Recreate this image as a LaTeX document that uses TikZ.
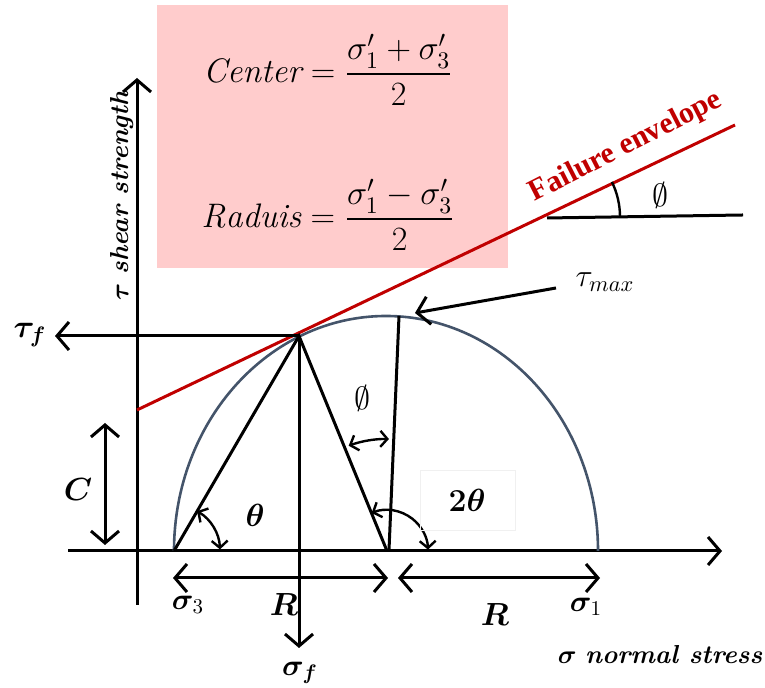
\RequirePackage{fix-cm}
\documentclass[tikz,border=0pt]{standalone}
\usepackage{amsmath,bm}
\usepackage{fontspec}
\newfontfamily\tnr{Liberation Serif}
\usetikzlibrary{arrows.meta}
\definecolor{pinkbg}{RGB}{255,204,204}
\definecolor{envred}{RGB}{192,0,0}
\definecolor{slate}{RGB}{68,84,106}
\begin{document}
\begin{tikzpicture}[x=0.5pt,y=0.5pt,
  ax/.style={line width=1.5pt},
  bigtip/.style={-{Straight Barb[length=6pt,width=14pt]}},
  bothtip/.style={{Straight Barb[length=6pt,width=14pt]}-{Straight Barb[length=6pt,width=14pt]}},
  smalltips/.style={line width=1.2pt,{Straight Barb[length=3.5pt,width=8pt]}-{Straight Barb[length=3.5pt,width=8pt]}},
  lab/.style={font=\fontsize{13}{16}\selectfont, inner sep=1pt},
  siglab/.style={font=\fontsize{15}{18}\selectfont, inner sep=1pt},
  biglab/.style={font=\fontsize{16}{19}\selectfont, inner sep=1pt},
  frm/.style={font=\fontsize{17}{20}\selectfont, inner sep=1pt}]
\useasboundingbox (0,0) rectangle (765,688);
% pink box
\fill[pinkbg] (157,420) rectangle (508,683);
\node[frm] (cen) at (328,618) {$\mathit{Center} = \dfrac{\sigma_1' + \sigma_3'}{2}$};
\node[frm] (rad) at (328,473) {$\mathit{Raduis} = \dfrac{\sigma_1' - \sigma_3'}{2}$};
% coordinates
\coordinate (vb) at (137,83);
\coordinate (vt) at (137,610);
\coordinate (hl) at (68,137);
\coordinate (hr) at (722,137);
\coordinate (A) at (174,137);
\coordinate (Ce) at (387,137);
\coordinate (T) at (299,352);
\coordinate (Mb) at (389,138);
\coordinate (M) at (399,372);
\coordinate (e1) at (137,278);
\coordinate (e2) at (735,563);
\coordinate (tf) at (55,352);
\coordinate (sf) at (299,40);
\coordinate (c1) at (105,265);
\coordinate (c2) at (105,143);
\coordinate (r1) at (173,110);
\coordinate (r2) at (388,110);
\coordinate (r3) at (398,110);
\coordinate (r4) at (600,110);
\coordinate (sl) at (547,470);
\coordinate (sr) at (743,473);
\coordinate (ma) at (556,400);
\coordinate (mb) at (415,375);
% axes
\draw[ax, bigtip] (vb) -- (vt);
\draw[ax, bigtip] (hl) -- (hr);
% Mohr circle
\draw[slate, line width=1.3pt] (A) arc[start angle=180, end angle=0, x radius=212, y radius=235];
% envelope
\draw[envred, line width=1.5pt] (e1) -- (e2);
\node[text=envred, font=\tnr\bfseries\fontsize{15}{17}\selectfont, rotate=27, inner sep=0pt] (fe) at (626,541) {Failure envelope};
% lines
\draw[ax] (A) -- (T) -- (Ce);
\draw[ax] (Mb) -- (M);
\draw[ax, bigtip] (T) -- (tf);
\draw[ax, bigtip] (T) -- (sf);
\draw[ax, bothtip] (c1) -- (c2);
\draw[ax, bothtip] (r1) -- (r2);
\draw[ax, bothtip] (r3) -- (r4);
\draw[ax] (sl) -- (sr);
\draw[ax, bigtip] (ma) -- (mb);
% angle arcs
\draw[smalltips] (A) ++(60:46) arc[start angle=60, end angle=2, radius=46];
\draw[smalltips] (Ce) ++(112:41) arc[start angle=112, end angle=2, radius=41];
\draw[smalltips] (Ce) ++(110:112) arc[start angle=110, end angle=89, radius=112];
\draw[line width=1.2pt] (620,471) arc[start angle=0, end angle=26, radius=80];
% labels
\node[biglab] (ltf) at (30,353) {$\bm{\tau_f}$};
\node[lab, rotate=90] (lax) at (122,493) {$\bm{\tau}$ \textbf{\textit{shear strength}}};
\node[biglab] (lc) at (78,198) {$\bm{C}$};
\node[biglab] (lth) at (255,173) {$\bm{\theta}$};
\draw[black!6] (420,158) rectangle (515,218);
\node[biglab] (l2th) at (467,188) {$\bm{2\theta}$};
\node[biglab] (lp1) at (362,290) {$\emptyset$};
\node[biglab] (lp2) at (660,493) {$\emptyset$};
\node[biglab] (ltm) at (605,406) {$\tau_{max}$};
\node[siglab] (ls3) at (188,83) {$\bm{\sigma}_3$};
\node[biglab] (lr1) at (284,83) {$\bm{R}$};
\node[biglab] (lr2) at (495,73) {$\bm{R}$};
\node[siglab] (ls1) at (586,81) {$\bm{\sigma}_1$};
\node[siglab] (lsf) at (300,15) {$\bm{\sigma_f}$};
\node[lab] (lns) at (660,33) {$\bm{\sigma}$ \textbf{\textit{normal stress}}};
\end{tikzpicture}
\end{document}
